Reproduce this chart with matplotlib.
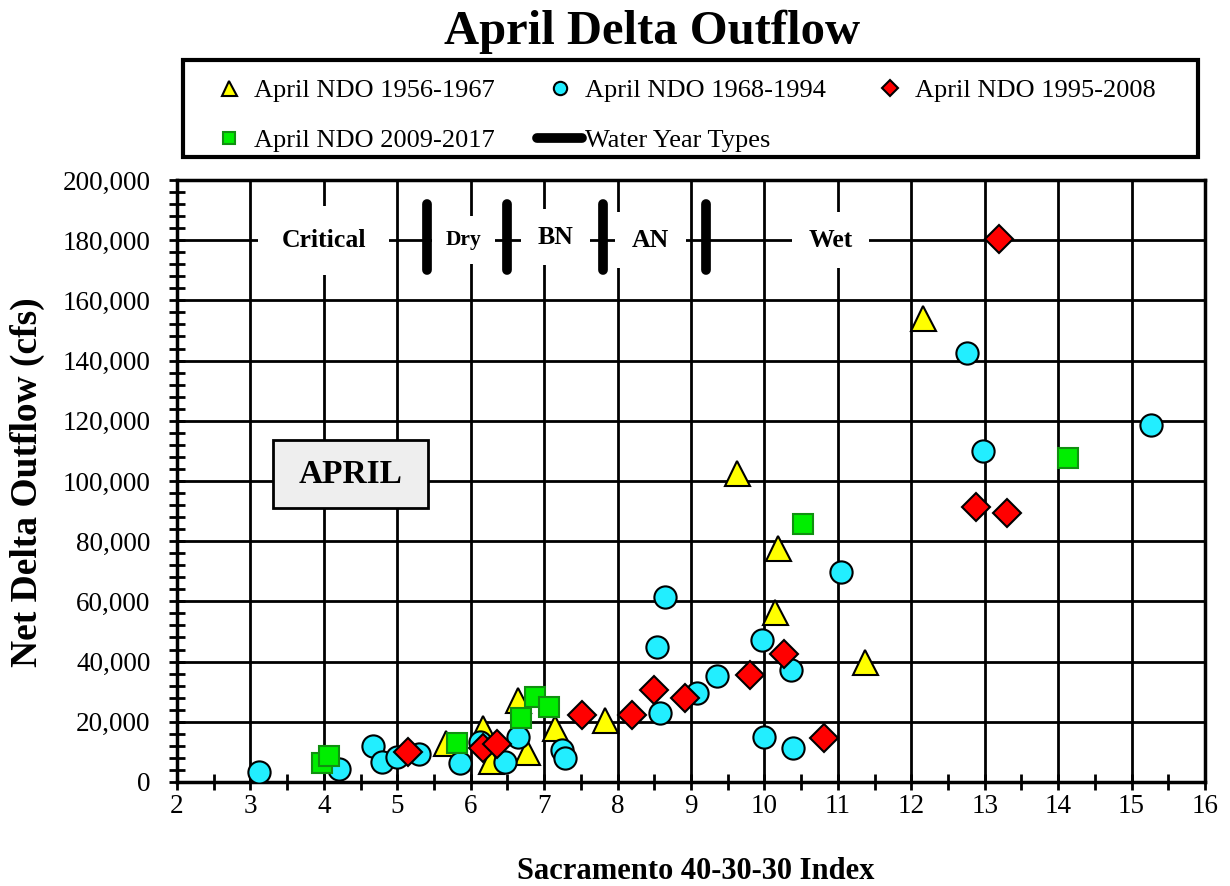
import matplotlib
matplotlib.use('Agg')
import matplotlib.pyplot as plt
from matplotlib.lines import Line2D
from matplotlib.patches import Rectangle
from matplotlib.ticker import MultipleLocator, StrMethodFormatter

plt.rcParams['font.family'] = ['Liberation Serif', 'DejaVu Serif']

# ── data (Sacramento 40-30-30 index, April net delta outflow in cfs) ──────────
ndo_56_67_x = [5.67, 6.17, 6.27, 6.65, 6.76, 7.15, 7.83, 9.62, 10.14, 10.19, 11.37, 12.16]
ndo_56_67_y = [13000, 17800, 7000, 27200, 10100, 17800, 20600, 102500, 56600, 77600, 39700, 154000]

ndo_68_94_x = [3.11, 4.21, 4.67, 4.79, 4.99, 5.30, 5.85, 6.12, 6.47, 6.65, 7.24, 7.28, 8.53,
               8.58, 8.65, 9.08, 9.35, 9.96, 9.99, 10.36, 10.39, 11.04, 12.76, 12.98, 15.27]
ndo_68_94_y = [3400, 4200, 12000, 6500, 8400, 9300, 6200, 13400, 6700, 14800, 10600, 7900, 44900,
               22800, 61600, 29500, 35100, 47200, 15000, 37200, 11200, 69900, 142600, 110000, 118600]

ndo_95_08_x = [5.14, 6.17, 6.36, 7.51, 8.19, 8.49, 8.92, 9.80, 10.26, 10.81, 12.88, 13.19, 13.30]
ndo_95_08_y = [10000, 11400, 12600, 22300, 22300, 30600, 27800, 35700, 42600, 14500, 91500, 180300, 89300]

ndo_09_17_x = [3.97, 4.07, 5.81, 6.69, 6.88, 7.07, 10.53, 14.14]
ndo_09_17_y = [6200, 8600, 13100, 21100, 28300, 25000, 85700, 107500]

# water year type boundaries and labels
wyt_breaks = [5.4, 6.5, 7.8, 9.2]
wyt_labels = ['Critical', 'Dry', 'BN', 'AN', 'Wet']
wyt_label_x = [4.0, 5.9, 7.15, 8.45, 10.9]
wyt_label_y = [180000, 180000, 181000, 180000, 180000]

# ── figure ────────────────────────────────────────────────────────────────────
fig = plt.figure(figsize=(12.3, 8.86), dpi=100, facecolor='white')
ax = fig.add_axes([0.1439, 0.1174, 0.8358, 0.6795])

ax.set_xlim(2, 16)
ax.set_ylim(0, 200000)
ax.xaxis.set_major_locator(MultipleLocator(1))
ax.xaxis.set_minor_locator(MultipleLocator(0.5))
ax.yaxis.set_major_locator(MultipleLocator(20000))
ax.yaxis.set_minor_locator(MultipleLocator(4000))
ax.yaxis.set_major_formatter(StrMethodFormatter('{x:,.0f}'))
ax.tick_params(which='both', direction='inout', length=12, width=2, color='k')
ax.tick_params(axis='y', which='major', labelsize=19.5, pad=13)
ax.tick_params(axis='x', which='major', labelsize=19.5, pad=3)
ax.grid(which='major', color='k', lw=2)
ax.set_axisbelow(True)
for sp in ax.spines.values():
    sp.set_linewidth(2.5)

mk = dict(linestyle='none', markeredgecolor='k', markeredgewidth=1.5)
h1, = ax.plot(ndo_56_67_x, ndo_56_67_y, marker='^', ms=18, color='#ffff00', zorder=4, **mk)
h2, = ax.plot(ndo_68_94_x, ndo_68_94_y, marker='o', ms=16, color='#22eeff', zorder=5, **mk)
h3, = ax.plot(ndo_95_08_x, ndo_95_08_y, marker='D', ms=14, color='#ff0000', zorder=6, **mk)
h4, = ax.plot(ndo_09_17_x, ndo_09_17_y, marker='s', ms=15, color='#00ee00',
              linestyle='none', markeredgecolor='#109010', markeredgewidth=1.5, zorder=7)

ax.vlines(wyt_breaks, 170000, 192000, color='k', lw=7, capstyle='round', zorder=8)
for lab, lx, ly in zip(wyt_labels, wyt_label_x, wyt_label_y):
    fs = 15.5 if lab == 'Dry' else 18.5
    pad = 0.9 if lab == 'Critical' else 0.65
    ax.text(lx, ly, lab, ha='center', va='center', fontsize=fs, fontweight='bold',
            bbox=dict(boxstyle=f'square,pad={pad}', fc='white', ec='none'), zorder=3)

# APRIL label box
ax.add_patch(Rectangle((3.31, 91000), 2.11, 22600, fc='#eeeeee', ec='k', lw=2, zorder=3))
ax.text(4.36, 102300, 'APRIL', ha='center', va='center', fontsize=24,
        fontweight='bold', zorder=4)

# titles
fig.text(0.530, 0.964, 'April Delta Outflow', ha='center', va='center',
         fontsize=35, fontweight='bold')
fig.text(0.566, 0.016, 'Sacramento 40-30-30 Index', ha='center', va='center',
         fontsize=22, fontweight='bold')
fig.text(0.022, 0.456, 'Net Delta Outflow (cfs)', ha='center', va='center',
         rotation=90, fontsize=27, fontweight='bold')

# legend (column-major order so rows read left to right)
wyt_h = Line2D([0], [0], color='k', lw=7, solid_capstyle='round')
handles = [h1, h4, h2, wyt_h, h3]
labels = ['April NDO 1956-1967', 'April NDO 2009-2017', 'April NDO 1968-1994',
          'Water Year Types', 'April NDO 1995-2008']
fig.legend(handles, labels, loc='upper left', ncol=3,
           bbox_to_anchor=(0.168, 0.911),
           fontsize=19, markerscale=0.6, handlelength=1.7, handletextpad=0.1,
           columnspacing=1.6, labelspacing=1.0, borderpad=0, borderaxespad=0,
           frameon=False)
fig.add_artist(Rectangle((183 / 1230, 1 - 157 / 886), 1015 / 1230, 97 / 886,
                         transform=fig.transFigure, fill=False, ec='k', lw=3))

fig.savefig('out.png', dpi=100, facecolor='white')
